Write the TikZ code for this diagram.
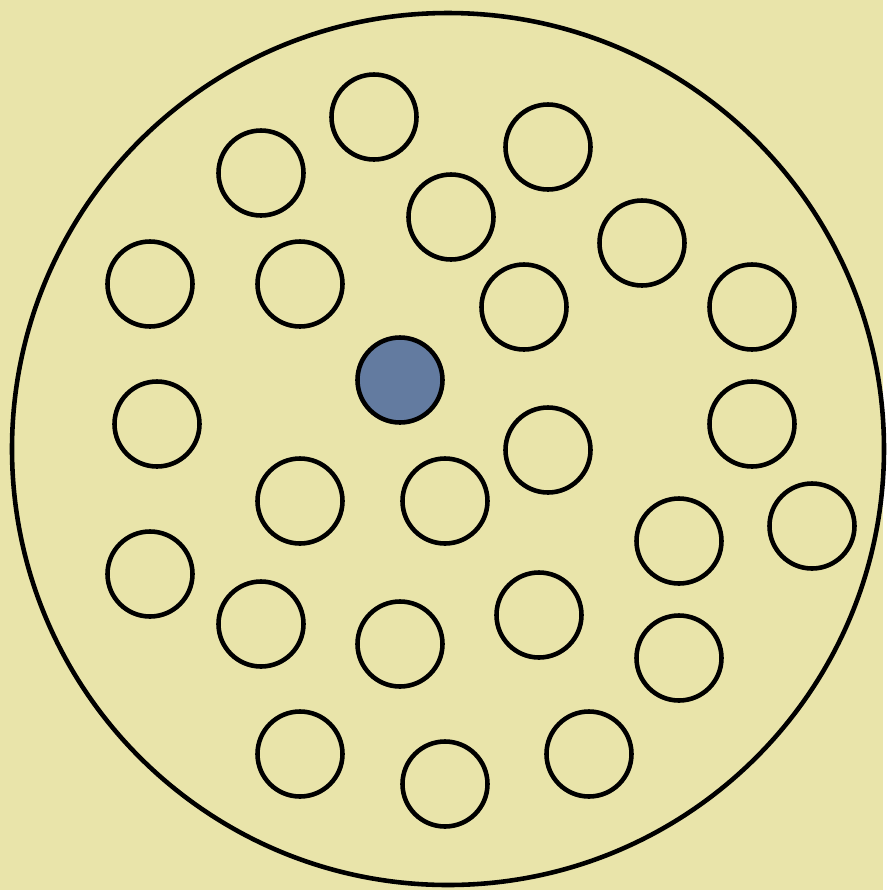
\documentclass[tikz,border=0pt]{standalone}
\definecolor{PaperColor}{RGB}{233,228,170}
\definecolor{SlateBlue}{RGB}{99,123,160}
\usepackage{tikz}
\begin{document}
\begin{tikzpicture}[x=0.01cm, y=-0.01cm, line width=1.3pt]
          \fill[PaperColor] (0,0) rectangle (883,890);
          \draw (448,449) circle (436);
          \draw (374,117) circle (42.5);
          \draw (548,147) circle (42.5);
          \draw (261,173) circle (42.5);
          \draw (451,217) circle (42.5);
          \draw (642,243) circle (42.5);
          \draw (150,284) circle (42.5);
          \draw (300,284) circle (42.5);
          \draw (524,307) circle (42.5);
          \draw (752,307) circle (42.5);
          \draw[fill=SlateBlue] (400,380) circle (42.5);
          \draw (157,424) circle (42.5);
          \draw (752,424) circle (42.5);
          \draw (548,450) circle (42.5);
          \draw (300,501) circle (42.5);
          \draw (445,501) circle (42.5);
          \draw (812,526) circle (42.5);
          \draw (679,541) circle (42.5);
          \draw (150,574) circle (42.5);
          \draw (261,624) circle (42.5);
          \draw (539,615) circle (42.5);
          \draw (400,644) circle (42.5);
          \draw (679,658) circle (42.5);
          \draw (300,754) circle (42.5);
          \draw (589,754) circle (42.5);
          \draw (445,784) circle (42.5);
        \end{tikzpicture}
\end{document}
